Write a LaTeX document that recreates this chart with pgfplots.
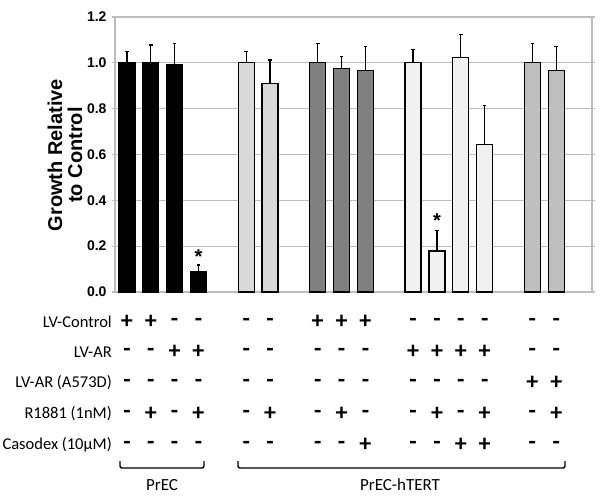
\documentclass[border=0pt]{standalone}
\usepackage{pgfplots}
\pgfplotsset{compat=1.18}
\usepackage{fontspec}
\setmainfont{Carlito}
\newfontfamily\arial{Liberation Sans}
\definecolor{cA}{gray}{0.0}
\definecolor{cB}{gray}{0.85}
\definecolor{cC}{gray}{0.50}
\definecolor{cD}{gray}{0.945}
\definecolor{cE}{gray}{0.75}
\definecolor{gridc}{gray}{0.74}
\begin{document}
\begin{tikzpicture}[x=1pt,y=1pt]
\path[use as bounding box] (-115,-206) rectangle (485,292);
\begin{axis}[
  at={(0,0)}, anchor=south west,
  width=477pt, height=275pt, scale only axis,
  xmin=-0.5, xmax=19.5, ymin=0, ymax=1.2,
  xtick=\empty,
  ytick={0,0.2,0.4,0.6,0.8,1.0,1.2},
  /pgf/number format/fixed,
  /pgf/number format/fixed zerofill,
  /pgf/number format/precision=1,
  /pgf/number format/assume math mode=true,
  yticklabel style={font=\arial\bfseries\fontsize{14}{14}\selectfont, xshift=-2pt},
  major tick length=3pt, tick align=outside,
  ytick style={gridc, line width=1.3pt},
  ymajorgrids, grid style={gridc, line width=1.3pt},
  axis line style={black, line width=1.3pt},
  y axis line style={gridc},
  ybar, bar width=16pt, bar shift=0pt,
  clip=false,
  every axis plot/.append style={draw=black, line width=1.3pt},
  error bars/error bar style={black, line width=1.3pt},
  error bars/error mark options={rotate=90, mark size=1.8pt, line width=1.3pt},
]
\addplot[fill=cA, error bars/.cd, y dir=plus, y explicit] coordinates {
  (0,1.0) +- (0,0.05) (1,1.0) +- (0,0.078) (2,0.99) +- (0,0.095) (3,0.089) +- (0,0.029)};
\addplot[fill=cB, error bars/.cd, y dir=plus, y explicit] coordinates {
  (5,1.0) +- (0,0.05) (6,0.91) +- (0,0.102)};
\addplot[fill=cC, error bars/.cd, y dir=plus, y explicit] coordinates {
  (8,1.0) +- (0,0.085) (9,0.976) +- (0,0.051) (10,0.967) +- (0,0.103)};
\addplot[fill=cD, error bars/.cd, y dir=plus, y explicit] coordinates {
  (12,1.0) +- (0,0.059) (13,0.179) +- (0,0.088) (14,1.024) +- (0,0.100) (15,0.644) +- (0,0.171)};
\addplot[fill=cE, error bars/.cd, y dir=plus, y explicit] coordinates {
  (17,1.0) +- (0,0.085) (18,0.967) +- (0,0.103)};
\node[font=\arial\bfseries\fontsize{20}{20}\selectfont] at (axis cs:3,0.155) {*};
\node[font=\arial\bfseries\fontsize{20}{20}\selectfont] at (axis cs:13,0.31) {*};
\end{axis}
\node[rotate=90, align=center, font=\arial\bfseries\fontsize{20}{20}\selectfont] at (-50,137) {Growth Relative\\to Control};
% table
\tikzset{lab/.style={font=\fontsize{16.5}{16.5}\selectfont, inner sep=0pt, anchor=east},
         sym/.style={font=\bfseries\fontsize{24}{24}\selectfont, inner sep=0pt}}
\node[lab] at (-3,-30) {LV-Control};
\node[lab] at (-3,-60) {LV-AR};
\node[lab] at (-3,-91) {LV-AR (A573D)};
\node[lab] at (-3,-122) {R1881 (1nM)};
\node[lab] at (-3,-153) {Casodex (10µM)};
\foreach \p/\s in {0/+,1/+,2/-,3/-,5/-,6/-,8/+,9/+,10/+,12/-,13/-,14/-,15/-,17/-,18/-}
  \node[sym] at ({11.925+\p*23.85},-30) {\s};
\foreach \p/\s in {0/-,1/-,2/+,3/+,5/-,6/-,8/-,9/-,10/-,12/+,13/+,14/+,15/+,17/-,18/-}
  \node[sym] at ({11.925+\p*23.85},-60) {\s};
\foreach \p/\s in {0/-,1/-,2/-,3/-,5/-,6/-,8/-,9/-,10/-,12/-,13/-,14/-,15/-,17/+,18/+}
  \node[sym] at ({11.925+\p*23.85},-91) {\s};
\foreach \p/\s in {0/-,1/+,2/-,3/+,5/-,6/+,8/-,9/+,10/-,12/-,13/+,14/-,15/+,17/-,18/+}
  \node[sym] at ({11.925+\p*23.85},-122) {\s};
\foreach \p/\s in {0/-,1/-,2/-,3/-,5/-,6/-,8/-,9/-,10/+,12/-,13/-,14/+,15/+,17/-,18/-}
  \node[sym] at ({11.925+\p*23.85},-153) {\s};
\draw[line width=1.4pt, rounded corners=2pt] (5,-169) -- (5,-176) -- (89,-176) -- (89,-169);
\draw[line width=1.4pt, rounded corners=2pt] (123,-169) -- (123,-176) -- (450,-176) -- (450,-169);
\node[font=\fontsize{17}{17}\selectfont] at (47,-193) {PrEC};
\node[font=\fontsize{17}{17}\selectfont] at (285,-193) {PrEC-hTERT};
\end{tikzpicture}
\end{document}
